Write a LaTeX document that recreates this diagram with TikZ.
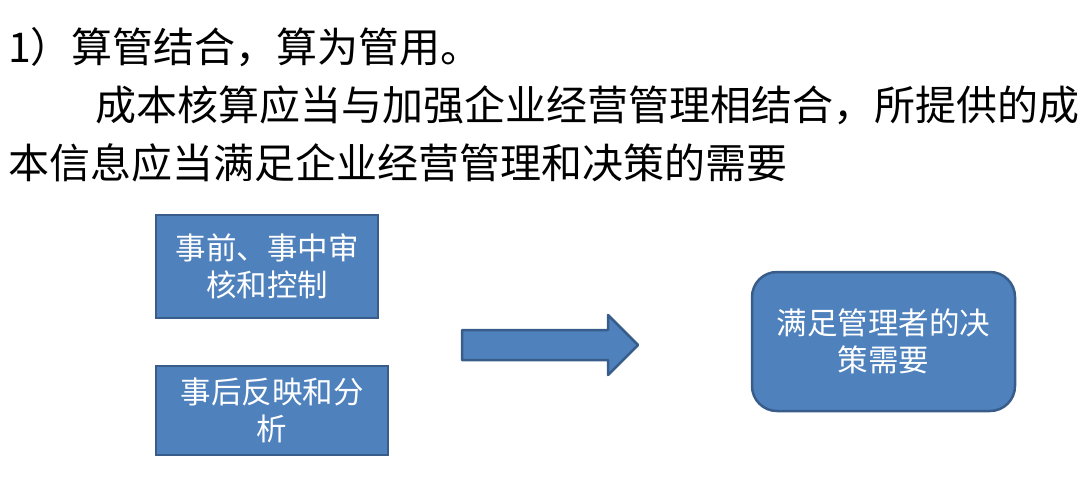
\documentclass[tikz,border=0pt]{standalone}
\usepackage{fontspec}
\newfontfamily\cjk{Noto Sans CJK SC}
\definecolor{boxfill}{HTML}{4F81BD}
\definecolor{boxline}{HTML}{385D8A}
\tikzset{
  titletext/.style={anchor=west, inner sep=0pt, font=\cjk\fontsize{41}{47}\selectfont, text=black},
  bluebox/.style={draw=boxline, line width=2.5pt, fill=boxfill, text=white, align=center,
    font=\cjk\fontsize{30.5}{37}\selectfont, inner sep=0pt},
  bigarrow/.style={draw=boxline, line width=2.5pt, fill=boxfill, line join=round}
}
\begin{document}
\begin{tikzpicture}[x=1pt,y=-1pt]
\useasboundingbox (0,0) rectangle (1091,483);
\node[titletext] (t1) at (8,47) {1）算管结合，算为管用。};
\node[titletext] (t2) at (95,105) {成本核算应当与加强企业经营管理相结合，所提供的成};
\node[titletext] (t3) at (8,163) {本信息应当满足企业经营管理和决策的需要};
\node[bluebox, minimum width=222, minimum height=103] (b1) at (267,266.5) {事前、事中审\\核和控制};
\node[bluebox, minimum width=232, minimum height=89] (b2) at (272,410.5) {事后反映和分\\析};
\node[bluebox, rounded corners=25pt, minimum width=263, minimum height=139] (b3) at (883.5,341.5) {满足管理者的决\\策需要};
\path[bigarrow] (462,330) -- (608,330) -- (608,315) -- (638,345) -- (608,375) -- (608,360) -- (462,360) -- cycle;
\end{tikzpicture}
\end{document}
